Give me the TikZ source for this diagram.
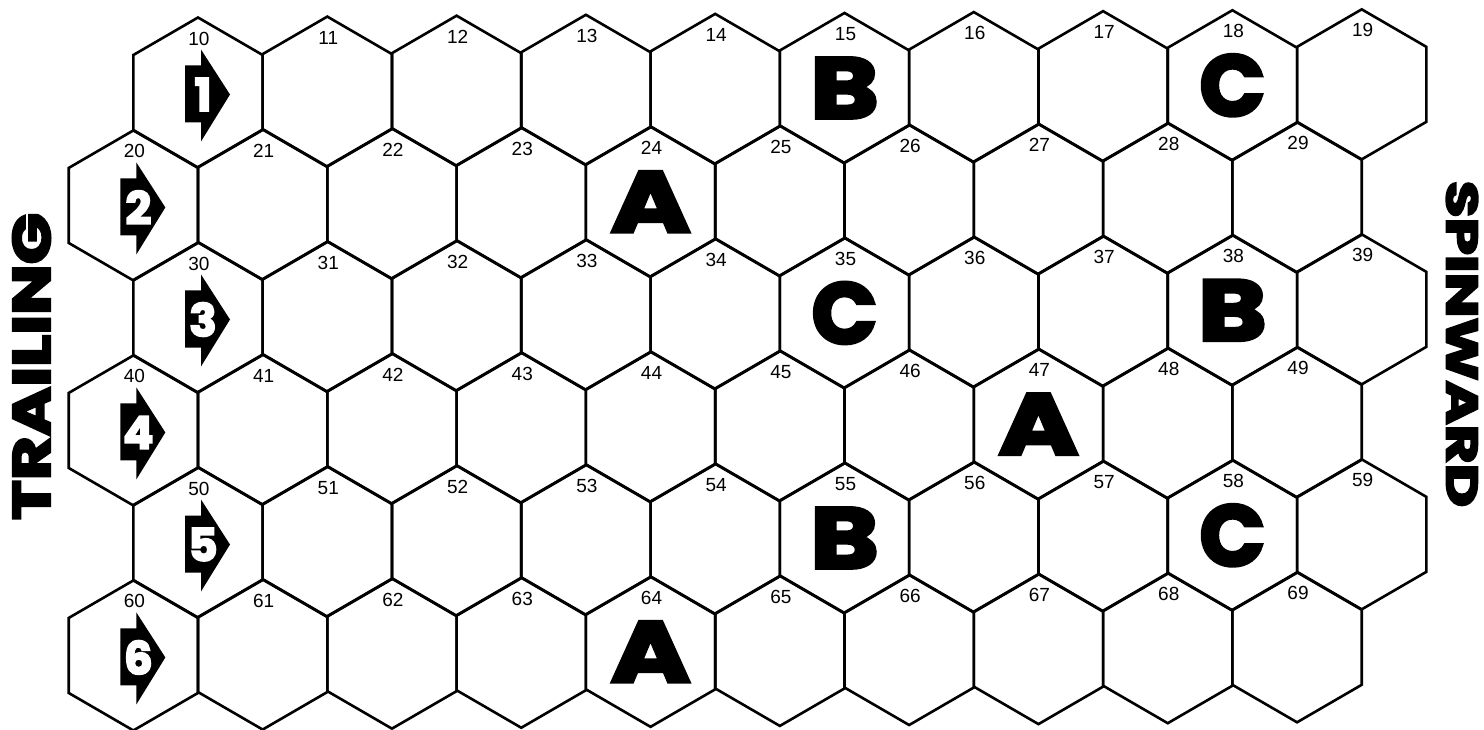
\documentclass[tikz,border=0pt]{standalone}
\usepackage{fontspec}
\setmainfont{Liberation Sans}
\newfontfamily\markfont{Poppins}[FakeBold=4]
\usetikzlibrary{calc}

\begin{document}
\begin{tikzpicture}[x=1pt, y=-1pt,
  hexline/.style={line width=2.6pt},
  hexnum/.style={font=\fontsize{19}{19}\selectfont, inner sep=0pt},
  sector/.style={font=\markfont\bfseries\fontsize{86}{86}\selectfont, inner sep=0pt},
  entry/.style={fill=black},
  entrynum/.style={text=white, font=\markfont\bfseries\fontsize{45}{45}\selectfont, inner sep=0pt},
  side/.style={font=\markfont\bfseries\fontsize{53}{53}\selectfont, inner sep=0pt}]
\useasboundingbox (0,0) rectangle (1484,730);
% ---- the hex grid, numbered row by row
\foreach \row in {1,...,6}{
  \foreach \col in {0,...,9}{
    \pgfmathsetmacro{\hx}{198-mod(\row+1,2)*64.65+\col*129.3}
    \pgfmathsetmacro{\hy}{92.5+(\row-1)*112.5-0.007*(\hx-198)}
    \coordinate (h\row\col) at (\hx,\hy);
    \draw[hexline] (h\row\col) ++(0,-75) -- ++(64.65,37.5) -- ++(0,75)
      -- ++(-64.65,37.5) -- ++(-64.65,-37.5) -- ++(0,-75) -- cycle;
    \node[hexnum] (n\row\col) at ($(h\row\col)+(1,-54)$) {\row\col};
  }
}
% ---- sector letters
\foreach \h/\l/\w in {15/B/1.2,18/C/1.0,24/A/1.25,35/C/1.0,38/B/1.2,47/A/1.25,55/B/1.2,58/C/1.0,64/A/1.25}
  \node[sector] (s\h) at (h\h) {\scalebox{\w}[1]{\l}};
% ---- entry arrows on the trailing edge
\foreach \row in {1,...,6}{
  \fill[entry] ($(h\row0)+(-13,-27)$) -- ++(16,0) -- ++(0,-16) -- ($(h\row0)+(32,2)$)
    -- ($(h\row0)+(3,49)$) -- ++(0,-19) -- ++(-16,0) -- cycle;
  \node[entrynum] (e\row) at ($(h\row0)+(5,2)$) {\row};
}
% ---- edge names
\node[side, rotate=90] (trail) at (31.5,366.5) {\scalebox{1.27}[1]{TRAILING}};
\node[side, font=\markfont\bfseries\fontsize{44}{44}\selectfont, rotate=-90] (spin)
  at (1462,344) {\scalebox{1.36}[1]{SPINWARD}};
\end{tikzpicture}
\end{document}
